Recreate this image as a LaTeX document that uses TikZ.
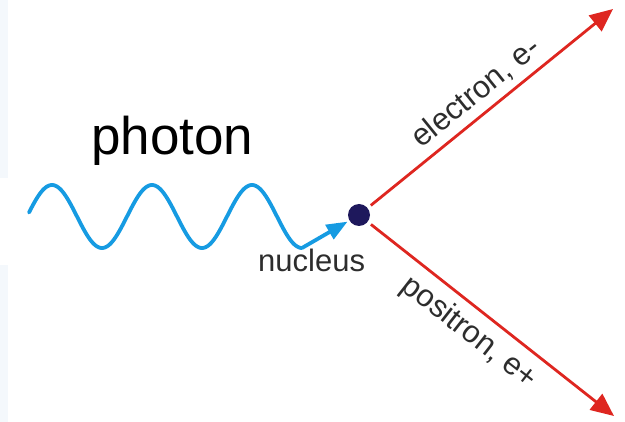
\documentclass[tikz,border=0pt]{standalone}
\usepackage{fontspec}
\setmainfont{Liberation Sans}
\usetikzlibrary{arrows.meta}
\definecolor{wavecol}{RGB}{22,155,226}
\definecolor{redcol}{RGB}{222,38,32}
\definecolor{dotcol}{RGB}{30,24,92}
\definecolor{txtcol}{RGB}{45,45,45}
\definecolor{bgtint}{RGB}{244,248,252}
\tikzset{
  wave/.style={draw=wavecol, line width=3.8pt, line cap=round, line join=round},
  ray/.style={draw=redcol, line width=2.8pt, -{Triangle[length=23pt,width=20pt]}, shorten <=4pt},
  lbl/.style={text=txtcol, inner sep=0pt, font=\fontsize{31}{31}\selectfont},
}
\begin{document}
\begin{tikzpicture}[x=1pt,y=-1pt]
\useasboundingbox (0,0) rectangle (625,422);
\fill[bgtint] (0,0) rectangle (8,178);
\fill[bgtint] (0,265) rectangle (8,422);
% nucleus
\node[circle, fill=dotcol, minimum size=22pt, inner sep=0pt] (nuc) at (359,215) {};
% photon wave
\draw[wave] plot[domain=29:302, samples=220, smooth] (\x, {216.5 - 31.5*sin(90 + (\x-52)*3.6)}) coordinate (wend);
\draw[wave, line cap=butt, -{Triangle[length=21pt,width=16pt]}, shorten >=2pt] (wend) -- (nuc);
% products
\coordinate (etip) at (613,9);
\coordinate (ptip) at (614,416);
\draw[ray] (nuc) -- (etip);
\draw[ray] (nuc) -- (ptip);
% labels
\node[anchor=base west, inner sep=0pt, font=\fontsize{53}{53}\selectfont] (photon) at (91,155) {photon};
\node[lbl, anchor=base west] (nucl) at (258,272) {nucleus};
\node[lbl, rotate=39] (elec) at (476,93) {electron, e-};
\node[lbl, rotate=-38] (posi) at (469,333) {positron, e+};
\end{tikzpicture}
\end{document}
